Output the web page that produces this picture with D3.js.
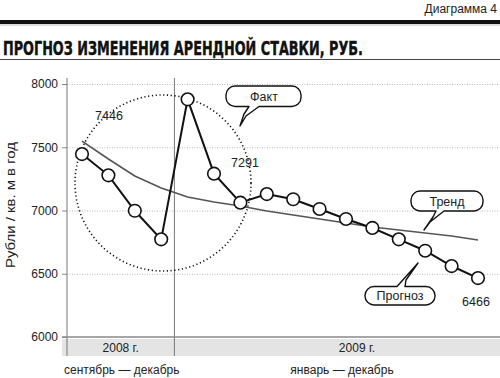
<!DOCTYPE html>
<html><head><meta charset="utf-8">
<script src="https://cdnjs.cloudflare.com/ajax/libs/d3/7.8.5/d3.min.js"></script>
<style>
body{margin:0;background:#fff;}
svg{display:block;font-family:"Liberation Sans",Arial,sans-serif;}
</style></head>
<body>
<svg id="c" width="500" height="378"></svg>
<script>
// Data
const months = ["сен 2008","окт 2008","ноя 2008","дек 2008","янв 2009","фев 2009","мар 2009","апр 2009","май 2009","июн 2009","июл 2009","авг 2009","сен 2009","окт 2009","ноя 2009","дек 2009"];
const rentValues = [7446,7278,6998,6772,7879,7291,7062,7130,7089,7012,6933,6862,6772,6682,6561,6466];
const trendValues = [7549,7407,7273,7178,7107,7067,7036,6996,6964,6933,6901,6870,6846,6822,6798,6767];
const yTicks = [6000,6500,7000,7500,8000];
const periodLabels = ["2008 г.","2009 г."];
const periodSubLabels = ["сентябрь — декабрь","январь — декабрь"];
const valueLabels = [{i:0,text:"7446"},{i:5,text:"7291"},{i:15,text:"6466"}];

const svg = d3.select("#c");

// Header
svg.append("text").attr("x",497).attr("y",13).attr("text-anchor","end")
  .attr("font-size",12).attr("fill","#222").text("Диаграмма 4");
svg.append("rect").attr("x",0).attr("y",20).attr("width",500).attr("height",4).attr("fill","#111");
svg.append("line").attr("x1",0).attr("x2",500).attr("y1",25).attr("y2",25).attr("stroke","#bbb").attr("stroke-width",1);
svg.append("text").attr("x",3).attr("y",54.5).attr("font-size",19.5).attr("font-weight","bold")
  .attr("font-family","'Liberation Sans Narrow','DejaVu Sans Condensed',Arial,sans-serif")
  .attr("textLength",360).attr("lengthAdjust","spacingAndGlyphs").attr("fill","#111")
  .attr("stroke","#111").attr("stroke-width",0.4)
  .text("ПРОГНОЗ ИЗМЕНЕНИЯ АРЕНДНОЙ СТАВКИ, РУБ.");
svg.append("line").attr("x1",0).attr("x2",500).attr("y1",59.5).attr("y2",59.5).attr("stroke","#444").attr("stroke-width",1.2);

// Scales
const x = d3.scaleLinear().domain([0,months.length-1]).range([82,478]);
const y = d3.scaleLinear().domain([6000,8000]).range([337,84]);

// period band
const sepX = (x(3)+x(4))/2;
svg.append("rect").attr("x",62).attr("y",339).attr("width",438).attr("height",17).attr("fill","#e4e4e4");

// gridlines
const grid = svg.append("g").attr("transform","translate(67,0)")
  .call(d3.axisLeft(y).tickValues(yTicks.slice(1)).tickSize(-433).tickFormat(""));
grid.select(".domain").remove();
grid.selectAll("line").attr("stroke","#aaa").attr("stroke-dasharray","1,1.5").attr("stroke-width",0.8);

// y axis
const ya = svg.append("g").attr("transform","translate(67,0)")
  .call(d3.axisLeft(y).tickValues(yTicks).tickSize(5).tickPadding(4).tickFormat(d3.format("d")));
ya.select(".domain").remove();
ya.selectAll("line").attr("stroke","#888");
ya.selectAll("text").attr("font-size",12).attr("fill","#222").attr("font-family","'Liberation Sans',Arial,sans-serif");

// axis lines
svg.append("line").attr("x1",67).attr("x2",67).attr("y1",78).attr("y2",356).attr("stroke","#777").attr("stroke-width",1);
svg.append("line").attr("x1",sepX).attr("x2",sepX).attr("y1",78).attr("y2",356).attr("stroke","#777").attr("stroke-width",1);
svg.append("line").attr("x1",62).attr("x2",500).attr("y1",y(6000)).attr("y2",y(6000)).attr("stroke","#888").attr("stroke-width",1.3);

// y label
svg.append("text").attr("transform","translate(15,205) rotate(-90)").attr("text-anchor","middle")
  .attr("font-size",12.5).attr("fill","#222").attr("textLength",126).attr("lengthAdjust","spacingAndGlyphs")
  .text("Рубли / кв. м в год");

// period labels
svg.append("text").attr("x",(67+sepX)/2).attr("y",352).attr("text-anchor","middle").attr("font-size",12).attr("fill","#222").text(periodLabels[0]);
svg.append("text").attr("x",357).attr("y",352).attr("text-anchor","middle").attr("font-size",12).attr("fill","#222").text(periodLabels[1]);
svg.append("text").attr("x",64).attr("y",374).attr("font-size",12).attr("fill","#222").text(periodSubLabels[0]);
svg.append("text").attr("x",342).attr("y",374).attr("text-anchor","middle").attr("font-size",12).attr("fill","#222").text(periodSubLabels[1]);

// dotted circle
svg.append("circle").attr("cx",163).attr("cy",183).attr("r",88).attr("fill","none")
  .attr("stroke","#111").attr("stroke-width",1.6).attr("stroke-dasharray","1.2,2.6");

// trend line
svg.append("path").datum(trendValues)
  .attr("d",d3.line().x((d,i)=>x(i)).y(d=>y(d)))
  .attr("fill","none").attr("stroke","#555").attr("stroke-width",1.6);

// rent line
svg.append("path").datum(rentValues)
  .attr("d",d3.line().x((d,i)=>x(i)).y(d=>y(d)))
  .attr("fill","none").attr("stroke","#111").attr("stroke-width",2);
svg.selectAll("circle.pt").data(rentValues).enter().append("circle").attr("class","pt")
  .attr("cx",(d,i)=>x(i)).attr("cy",d=>y(d)).attr("r",6.3)
  .attr("fill","#fff").attr("stroke","#111").attr("stroke-width",1.6);

// value labels
const vlPos = {0:[109,120],5:[245,167],15:[476,306]};
valueLabels.forEach(v=>{
  svg.append("text").attr("x",vlPos[v.i][0]).attr("y",vlPos[v.i][1]).attr("text-anchor","middle")
    .attr("font-size",12.5).attr("fill","#222").text(v.text);
});

// callouts
function callout(x0,y0,x1,y1,r,tail,label,tx){
  const p = d3.path();
  const top = tail.up;
  p.moveTo(x0+r,y0);
  if(top){ p.lineTo(tail.pts[0][0],y0); tail.pts.forEach(q=>p.lineTo(q[0],q[1])); }
  p.lineTo(x1-r,y0);
  p.arcTo(x1,y0,x1,y0+r,r); p.lineTo(x1,y1-r); p.arcTo(x1,y1,x1-r,y1,r);
  if(!top){ tail.pts.forEach(q=>p.lineTo(q[0],q[1])); }
  p.lineTo(x0+r,y1); p.arcTo(x0,y1,x0,y1-r,r); p.lineTo(x0,y0+r); p.arcTo(x0,y0,x0+r,y0,r);
  p.closePath();
  svg.append("path").attr("d",p.toString()).attr("fill","#fff").attr("stroke","#111").attr("stroke-width",1.4).attr("stroke-linejoin","round");
  svg.append("text").attr("x",tx).attr("y",(y0+y1)/2+4.5).attr("text-anchor","middle")
    .attr("font-size",12.5).attr("fill","#222").text(label);
}
callout(226,86,301,106.5,9,{up:false,pts:[[259,106.5],[246,116],[240,126],[244,114],[249,106.5]]},"Факт",264);
callout(411,191,483,211,9,{up:false,pts:[[444,211],[430,222],[424,230],[433,217],[436,211]]},"Тренд",447);
callout(365,286.5,435,305,9,{up:true,pts:[[397,286.5],[410,272],[418,263],[406,280],[405,286.5]]},"Прогноз",400);
</script>
</body></html>
